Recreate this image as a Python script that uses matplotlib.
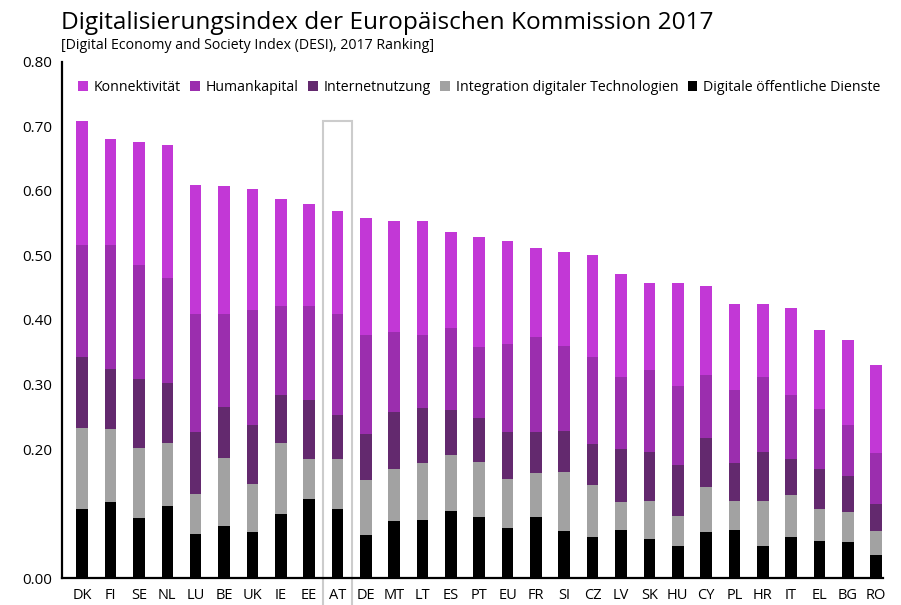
import matplotlib.pyplot as plt
from matplotlib.patches import Rectangle
import numpy as np

plt.rcParams['font.family'] = ['Open Sans', 'DejaVu Sans']

laender = ['DK', 'FI', 'SE', 'NL', 'LU', 'BE', 'UK', 'IE', 'EE', 'AT',
           'DE', 'MT', 'LT', 'ES', 'PT', 'EU', 'FR', 'SI', 'CZ', 'LV',
           'SK', 'HU', 'CY', 'PL', 'HR', 'IT', 'EL', 'BG', 'RO']

# Teilwerte je Dimension (von unten nach oben gestapelt)
digitale_dienste = [0.107, 0.118, 0.093, 0.111, 0.069, 0.081, 0.071, 0.099, 0.123, 0.107,
                    0.066, 0.088, 0.090, 0.104, 0.094, 0.078, 0.094, 0.073, 0.063, 0.074,
                    0.060, 0.050, 0.071, 0.075, 0.050, 0.063, 0.057, 0.056, 0.036]
integration = [0.126, 0.113, 0.109, 0.098, 0.061, 0.105, 0.074, 0.111, 0.062, 0.078,
               0.086, 0.081, 0.088, 0.086, 0.086, 0.076, 0.069, 0.092, 0.081, 0.044,
               0.060, 0.046, 0.070, 0.044, 0.070, 0.066, 0.050, 0.046, 0.037]
internetnutzung = [0.109, 0.093, 0.107, 0.094, 0.097, 0.079, 0.092, 0.074, 0.091, 0.067,
                   0.072, 0.088, 0.085, 0.071, 0.068, 0.072, 0.063, 0.063, 0.064, 0.082,
                   0.075, 0.079, 0.076, 0.060, 0.075, 0.055, 0.062, 0.056, 0.042]
humankapital = [0.174, 0.192, 0.176, 0.162, 0.182, 0.144, 0.178, 0.138, 0.146, 0.157,
                0.153, 0.125, 0.114, 0.127, 0.110, 0.136, 0.147, 0.132, 0.134, 0.112,
                0.127, 0.123, 0.097, 0.113, 0.117, 0.100, 0.093, 0.079, 0.079]
konnektivitaet = [0.193, 0.164, 0.191, 0.207, 0.200, 0.198, 0.188, 0.165, 0.158, 0.160,
                  0.181, 0.172, 0.177, 0.148, 0.170, 0.160, 0.139, 0.146, 0.158, 0.160,
                  0.136, 0.159, 0.139, 0.133, 0.113, 0.135, 0.123, 0.132, 0.136]

# Reihenfolge der Legende: oben nach unten im Stapel
serien = [
    ('Konnektivität', konnektivitaet, '#c238d6'),
    ('Humankapital', humankapital, '#9b2eae'),
    ('Internetnutzung', internetnutzung, '#63296e'),
    ('Integration digitaler Technologien', integration, '#a2a2a2'),
    ('Digitale öffentliche Dienste', digitale_dienste, '#000000'),
]

fig = plt.figure(figsize=(9.01, 6.05), dpi=100)
ax = fig.add_axes([0.0688, 0.0446, 0.9112, 0.853])

x = np.arange(len(laender))
unten = np.zeros(len(laender))
balken = {}
for name, werte, farbe in reversed(serien):
    balken[name] = ax.bar(x, werte, width=0.41, bottom=unten, color=farbe, label=name)
    unten += np.array(werte)

ax.set_xlim(-0.715, len(laender) - 1 + 0.24)
ax.set_ylim(0, 0.80)
ax.set_yticks([0.0, 0.2, 0.3, 0.4, 0.5, 0.6, 0.7, 0.8])
ax.set_yticklabels(['0.00', '0.20', '0.30', '0.40', '0.50', '0.60', '0.70', '0.80'], fontsize=11)
ax.set_xticks(x)
ax.set_xticklabels(laender, fontsize=10.5)
ax.tick_params(axis='both', length=0, pad=7)
ax.tick_params(axis='y', pad=7)
for s in ['top', 'right']:
    ax.spines[s].set_visible(False)
ax.spines['left'].set_linewidth(1.6)
ax.spines['bottom'].set_linewidth(1.6)

# Rahmen um Österreich
i_at = laender.index('AT')
ax.add_patch(Rectangle((i_at - 0.52, -0.045), 1.04, 0.754, fill=False,
                       edgecolor='#cccccc', linewidth=1.5, clip_on=False))

handles = [balken[name] for name, _, _ in serien]
ax.legend(handles, [s[0] for s in serien], ncol=5, frameon=False, fontsize=10.2,
          loc='upper left', bbox_to_anchor=(0.008, 0.984), handlelength=0.7,
          handleheight=0.7, handletextpad=0.4, columnspacing=0.65, borderaxespad=0.3)

fig.text(0.068, 0.962, 'Digitalisierungsindex der Europäischen Kommission 2017',
         fontsize=17.6, va='center', ha='left')
fig.text(0.068, 0.924, '[Digital Economy and Society Index (DESI), 2017 Ranking]',
         fontsize=10.2, va='center', ha='left')

fig.savefig('out.png', dpi=100)
